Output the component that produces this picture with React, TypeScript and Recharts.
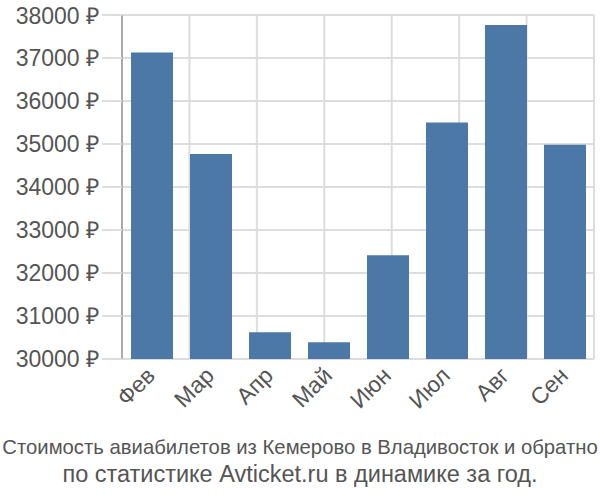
import { BarChart, Bar, XAxis, YAxis, CartesianGrid } from "recharts"

const months = ["Фев", "Мар", "Апр", "Май", "Июн", "Июл", "Авг", "Сен"]
const prices = [37130, 34770, 30620, 30390, 32410, 35500, 37770, 34980]
const priceTicks = [30000, 31000, 32000, 33000, 34000, 35000, 36000, 37000, 38000]
const gridTicks = [0, 1, 2, 3, 4, 5, 6, 7, 8]
const titleLines = [
  "Стоимость авиабилетов из Кемерово в Владивосток и обратно",
  "по статистике Avticket.ru в динамике за год.",
]

const data = months.map((month, i) => ({ month, price: prices[i] }))

const font = "'Liberation Sans', Arial, sans-serif"

function MonthTick({ x, y, payload }: any) {
  return (
    <text
      x={x + 5}
      y={y + 10}
      transform={`rotate(-45, ${x + 5}, ${y + 10})`}
      textAnchor="end"
      fontSize={23}
      fontFamily={font}
      fill="#555"
    >
      {payload.value}
    </text>
  )
}

// boundary ticks below the axis; the first one continues the darker y axis line
function GridTick({ x, y, index }: any) {
  return (
    <line
      x1={x}
      x2={x}
      y1={y}
      y2={y + 19}
      stroke={index === 0 ? "#aaa" : "#ddd"}
      strokeWidth={2}
    />
  )
}

export default function App() {
  return (
    <div style={{ position: "absolute", left: 0, top: 0, width: 600, height: 500, background: "#fff" }}>
      <BarChart
        width={600}
        height={420}
        data={data}
        margin={{ top: 15, right: 6, left: 0, bottom: 0 }}
      >
        <CartesianGrid stroke="#ddd" strokeWidth={2} xAxisId="grid" />
        <XAxis
          xAxisId="grid"
          type="number"
          domain={[0, 8]}
          ticks={gridTicks}
          tick={<GridTick />}
          tickSize={0}
          tickLine={false}
          axisLine={false}
          height={0}
        />
        <XAxis
          xAxisId="cat"
          dataKey="month"
          tick={<MonthTick />}
          tickLine={false}
          axisLine={false}
          interval={0}
          height={61}
        />
        <YAxis
          domain={[30000, 38000]}
          ticks={priceTicks}
          width={122}
          tickSize={20}
          tickMargin={3}
          tickLine={{ stroke: "#ddd", strokeWidth: 2 }}
          axisLine={{ stroke: "#aaa", strokeWidth: 2 }}
          tick={{ fill: "#555", fontSize: 23, fontFamily: font }}
          tickFormatter={(v) => `${v} ₽`}
          allowDataOverflow
        />
        <Bar
          xAxisId="cat"
          dataKey="price"
          fill="#4c78a8"
          barSize={42}
          isAnimationActive={false}
        />
      </BarChart>
      <svg width={600} height={80} style={{ position: "absolute", left: 0, top: 420 }}>
        <text x={300} y={34} textAnchor="middle" fontFamily={font} fontSize={20.3} fill="#555">
          {titleLines[0]}
        </text>
        <text x={300} y={62} textAnchor="middle" fontFamily={font} fontSize={23.5} fill="#555">
          {titleLines[1]}
        </text>
      </svg>
    </div>
  )
}
